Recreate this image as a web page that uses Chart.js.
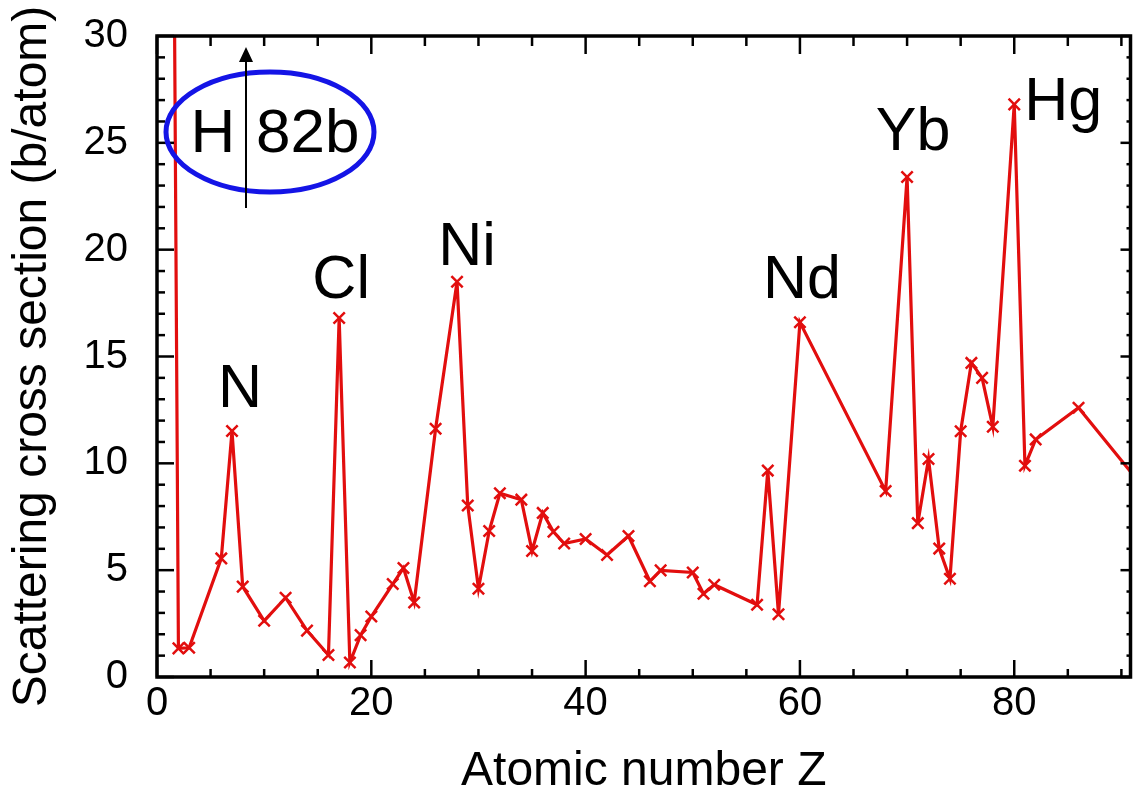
<!DOCTYPE html>
<html>
<head>
<meta charset="utf-8">
<script src="https://cdn.jsdelivr.net/npm/chart.js@4.4.0/dist/chart.umd.min.js"></script>
<style>
  body { margin: 0; background: #fff; }
  #wrap { width: 1141px; height: 797px; }
</style>
</head>
<body>
<div id="wrap"><canvas id="xsChart" width="1141" height="797"></canvas></div>
<script>
// Data: atomic number Z and scattering cross section (b/atom)
const atomicNumbers = [1, 2, 3, 6, 7, 8, 10, 12, 14, 16, 17, 18, 19, 20, 22, 23, 24, 26, 28, 29,
  30, 31, 32, 34, 35, 36, 37, 38, 40, 42, 44, 46, 47, 50, 51, 52, 56, 57, 58, 60,
  68, 70, 71, 72, 73, 74, 75, 76, 77, 78, 80, 81, 82, 86, 92];
const crossSections = [82.0, 1.34, 1.37, 5.55, 11.51, 4.23, 2.63, 3.71, 2.17, 1.03, 16.8, 0.68, 1.96, 2.83, 4.35, 5.10, 3.49, 11.62, 18.5, 8.03,
  4.13, 6.83, 8.60, 8.30, 5.90, 7.68, 6.8, 6.25, 6.46, 5.71, 6.6, 4.48, 4.99, 4.89, 3.9, 4.32, 3.38, 9.66, 2.94, 16.6,
  8.7, 23.4, 7.2, 10.2, 6.01, 4.6, 11.5, 14.7, 14.0, 11.71, 26.8, 9.89, 11.12, 12.6, 8.9];

// Tick labels
const xTicks = [0, 20, 40, 60, 80];
const yTicks = [0, 5, 10, 15, 20, 25, 30];

// Labelled peaks
const peakNames = ['N', 'Cl', 'Ni', 'Nd', 'Yb', 'Hg'];
const peakZ = [7, 17, 28, 60, 70, 80];

// Hydrogen (off scale) annotation
const hydrogenLabel = ['H', '82b'];

const FONT = "'Liberation Sans', Arial, Helvetica, sans-serif";
const RED = 'rgb(226, 14, 14)';

const points = atomicNumbers.map((z, i) => ({ x: z, y: crossSections[i] }));

// frame with inward ticks on all four sides
const framePlugin = {
  id: 'frame',
  afterDatasetsDraw(chart) {
    const { ctx, chartArea: a, scales: { x, y } } = chart;
    const seg = (x1, y1, x2, y2) => {
      ctx.beginPath(); ctx.moveTo(x1, y1); ctx.lineTo(x2, y2); ctx.stroke();
    };
    ctx.save();
    ctx.strokeStyle = '#000';
    ctx.lineWidth = 2.5;
    for (let v = 0; v <= x.max; v += 5) {
      const px = x.getPixelForValue(v);
      const major = v % 20 === 0;
      seg(px, a.bottom, px, a.bottom - (major ? 17 : 8));
      seg(px, a.top, px, a.top + (major ? 18 : 10));
    }
    for (let v = 0; v <= y.max; v += 1) {
      const py = y.getPixelForValue(v);
      const major = v % 5 === 0;
      seg(a.left, py, a.left + (major ? 17 : 8), py);
      seg(a.right, py, a.right - (major ? 10 : 4), py);
    }
    ctx.lineWidth = 3.5;
    ctx.strokeRect(a.left, a.top, a.right - a.left, a.bottom - a.top);
    ctx.restore();
  }
};

// element names above the peaks
const peakLabelPlugin = {
  id: 'peakLabels',
  afterDraw(chart) {
    const { ctx, scales: { x, y } } = chart;
    const offsets = { N: [8, -24], Cl: [2, -20], Ni: [10, -17], Nd: [2, -24], Yb: [6, -27], Hg: [49, 16] };
    ctx.save();
    ctx.fillStyle = '#000';
    ctx.font = '61px ' + FONT;
    ctx.textAlign = 'center';
    ctx.textBaseline = 'alphabetic';
    peakNames.forEach((name, i) => {
      const z = peakZ[i];
      const val = crossSections[atomicNumbers.indexOf(z)];
      const [dx, dy] = offsets[name];
      ctx.fillText(name, x.getPixelForValue(z) + dx, y.getPixelForValue(val) + dy);
    });
    ctx.restore();
  }
};

// blue ellipse "H | 82b" with arrow pointing off scale
const hydrogenPlugin = {
  id: 'hydrogen',
  afterDraw(chart) {
    const { ctx } = chart;
    ctx.save();
    ctx.strokeStyle = '#1414e6';
    ctx.lineWidth = 5;
    ctx.beginPath();
    ctx.ellipse(270, 132, 104, 60, 0, 0, Math.PI * 2);
    ctx.stroke();

    ctx.strokeStyle = '#000';
    ctx.fillStyle = '#000';
    ctx.lineWidth = 2;
    ctx.beginPath();
    ctx.moveTo(246, 208); ctx.lineTo(246, 60);
    ctx.stroke();
    ctx.beginPath();
    ctx.moveTo(246, 47); ctx.lineTo(239, 62); ctx.lineTo(253, 62); ctx.closePath();
    ctx.fill();

    ctx.font = '62px ' + FONT;
    ctx.textBaseline = 'alphabetic';
    ctx.textAlign = 'center';
    ctx.fillText(hydrogenLabel[0], 213, 152);
    ctx.textAlign = 'left';
    ctx.fillText(hydrogenLabel[1], 256, 152);
    ctx.restore();
  }
};

const ctx = document.getElementById('xsChart').getContext('2d');
const xsChart = new Chart(ctx, {
  type: 'line',
  data: {
    datasets: [{
      data: points,
      borderColor: RED,
      backgroundColor: RED,
      borderWidth: 3.2,
      pointStyle: 'crossRot',
      pointRadius: 8,
      pointBorderWidth: 2.5,
      pointBorderColor: RED,
      tension: 0,
      fill: false,
      clip: 0
    }]
  },
  options: {
    responsive: false,
    animation: false,
    devicePixelRatio: 1,
    layout: { padding: { top: 36, right: 4, left: 0, bottom: 0 } },
    plugins: {
      legend: { display: false },
      tooltip: { enabled: false }
    },
    scales: {
      x: {
        type: 'linear',
        min: 0,
        max: 90.85,
        grid: { display: false, drawTicks: false },
        border: { display: false },
        afterBuildTicks(scale) { scale.ticks = xTicks.map(v => ({ value: v })); },
        ticks: {
          padding: 3,
          color: '#000',
          font: { family: FONT, size: 40 },
          maxRotation: 0
        },
        title: {
          display: true,
          text: 'Atomic number Z',
          color: '#000',
          font: { family: FONT, size: 48 },
          padding: { top: 0, bottom: -4 }
        },
        afterFit(scale) {
          scale.height = 120;
          scale.paddingLeft = 0;
          scale.paddingRight = 0;
        }
      },
      y: {
        min: 0,
        max: 30,
        grid: { display: false, drawTicks: false },
        border: { display: false },
        afterBuildTicks(scale) { scale.ticks = yTicks.map(v => ({ value: v })); },
        ticks: {
          padding: 29,
          color: '#000',
          font: { family: FONT, size: 40 }
        },
        title: {
          display: true,
          text: 'Scattering cross section (b/atom)',
          color: '#000',
          font: { family: FONT, size: 48 },
          padding: { top: 4, bottom: 0 }
        },
        afterFit(scale) {
          scale.width = 157;
          scale.paddingTop = 0;
          scale.paddingBottom = 0;
        }
      }
    }
  },
  plugins: [framePlugin, peakLabelPlugin, hydrogenPlugin]
});
</script>
</body>
</html>
